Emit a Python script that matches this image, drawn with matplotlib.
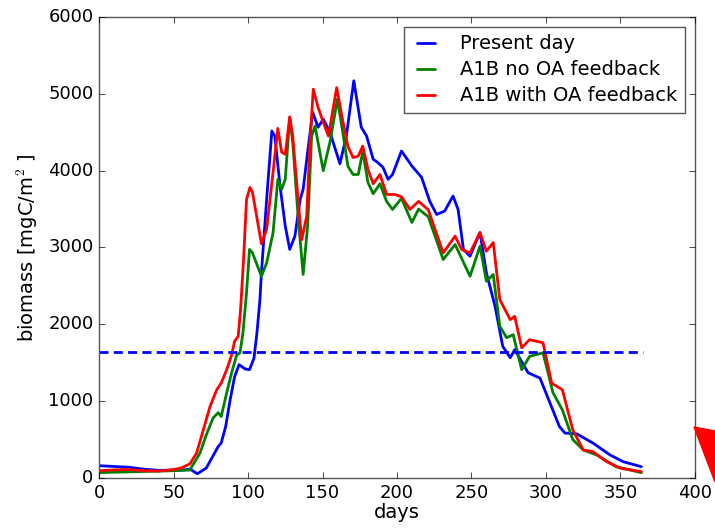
import matplotlib

matplotlib.use("Agg")
import matplotlib.pyplot as plt
from matplotlib.patches import Polygon

# values (day, biomass mgC/m2)
present_days = [0, 10, 20, 30, 40, 50, 57, 61, 66, 72, 75, 80, 82, 85, 88, 91, 94, 98,
                101, 104, 106, 108, 109, 112.5, 116, 118, 121.5, 125, 128, 131.5, 135,
                137, 140, 143.4, 147, 150.5, 155, 161.7, 166, 171, 176, 179.6, 184, 187,
                190.6, 194, 197, 203, 210, 216.5, 222, 226.6, 232, 237.6, 241, 244.6,
                249, 255.7, 260, 265.8, 271, 276, 279, 288, 296, 302.7, 309, 312.7,
                320.6, 331.5, 343, 351.7, 364]
present_vals = [160, 150, 140, 115, 100, 100, 105, 117, 55, 130, 235, 410, 455, 670, 1017,
                1320, 1475, 1420, 1410, 1560, 1890, 2320, 2670, 3626, 4517, 4450, 3800,
                3280, 2975, 3150, 3625, 3757, 4240, 4760, 4565, 4670, 4500, 4090, 4450,
                5170, 4565, 4450, 4148, 4108, 4043, 3887, 3950, 4256, 4060, 3913, 3600,
                3430, 3474, 3670, 3495, 2974, 2887, 3195, 2670, 2235, 1712, 1565, 1670,
                1370, 1300, 975, 670, 585, 575, 455, 300, 213, 147]

nofb_days = [0, 10, 20, 30, 40, 50, 55, 61, 67.8, 72, 76.5, 80, 82, 85.7, 89, 92.4, 94.6,
             96.6, 99, 101, 103, 109, 112.5, 116.8, 120, 122.6, 125, 128, 130, 133.6, 137,
             140, 142.7, 145, 150.5, 155, 160, 164, 167, 170.5, 174, 177, 180.5, 184,
             188.6, 193, 197, 203, 210, 214.5, 221, 231, 239, 249, 255.7, 260, 264.6, 269,
             273.6, 278, 283.7, 289, 298, 304.7, 311, 318, 325, 334, 347, 364]
nofb_vals = [70, 75, 80, 85, 90, 95, 100, 104, 326, 560, 780, 850, 800, 1110, 1370, 1600,
             1630, 1890, 2410, 2975, 2930, 2625, 2800, 3190, 3887, 3757, 3887, 4695, 4370,
             3408, 2650, 3278, 4450, 4580, 4000, 4370, 4930, 4450, 4060, 3950, 3950, 4250,
             3848, 3700, 3830, 3600, 3495, 3640, 3326, 3500, 3400, 2843, 3039, 2626, 3017,
             2560, 2648, 1974, 1826, 1865, 1409, 1583, 1630, 1110, 887, 500, 365, 300, 147,
             70]

withfb_days = [0, 10, 20, 30, 40, 50, 55, 61, 65.5, 70, 74.5, 79, 82, 85.7, 89, 91, 93.4,
               95, 97, 99, 101.3, 103, 109, 112.5, 116.8, 120, 122.6, 125, 128, 130, 133.6,
               136, 139.4, 141.6, 143.8, 147, 150.5, 154, 159.5, 163, 167, 170.5, 174, 177,
               180.5, 184, 188.6, 193, 198.7, 203, 208.7, 214.5, 221, 231, 239, 243.4, 249,
               255.7, 260, 264.6, 269, 276, 279, 283.7, 289, 298, 303.8, 311, 318, 325,
               331.5, 340.7, 349.7, 364]
withfb_vals = [95, 105, 110, 95, 90, 110, 130, 183, 326, 626, 930, 1148, 1235, 1410, 1600,
               1780, 1843, 2190, 2843, 3626, 3782, 3717, 3050, 3235, 3978, 4550, 4240, 4213,
               4700, 4450, 3626, 3100, 3408, 4370, 5060, 4826, 4630, 4450, 5080, 4710, 4320,
               4170, 4190, 4320, 4017, 3830, 3950, 3690, 3690, 3660, 3495, 3600, 3490, 2930,
               3148, 2974, 2930, 3195, 2952, 3065, 2322, 2061, 2104, 1695, 1800, 1760, 1235,
               1148, 626, 365, 343, 213, 130, 82]

threshold = 1640
threshold_span = [0, 365]

plt.style.use("classic")
fig = plt.figure(figsize=(7.15, 5.29), dpi=100)
ax = fig.add_axes([0.1385, 0.0964, 0.8335, 0.8715])

line_kw = dict(lw=2, solid_joinstyle="round", solid_capstyle="round")
ax.plot(present_days, present_vals, color="b", label="Present day", **line_kw)
ax.plot(nofb_days, nofb_vals, color="g", label="A1B no OA feedback", **line_kw)
ax.plot(withfb_days, withfb_vals, color="r", label="A1B with OA feedback", **line_kw)
ax.plot(threshold_span, [threshold, threshold], "b--", lw=2, dashes=(6.5, 3.8))

ax.set_xlim(0, 400)
ax.set_ylim(0, 6000)
ax.set_xlabel("days", fontsize=14, labelpad=1)
ax.set_ylabel("biomass [mgC/m$^2$ ]", fontsize=14, labelpad=6)
ax.tick_params(labelsize=13)
for sp in ax.spines.values():
    sp.set_edgecolor("#555555")

leg = ax.legend(loc="upper right", fontsize=14, handlelength=1.5, handletextpad=1.0,
                borderpad=0.4, borderaxespad=0.5, labelspacing=0.36)
leg.get_frame().set_edgecolor("#555555")

# red wedge at the lower right edge of the screenshot
fig.patches.append(Polygon([(694 / 715, 1 - 427 / 529), (1.0, 1 - 431 / 529),
                            (1.0, 1 - 482 / 529)], closed=True, color="red",
                           transform=fig.transFigure, figure=fig))

fig.savefig("out.png", dpi=100)
